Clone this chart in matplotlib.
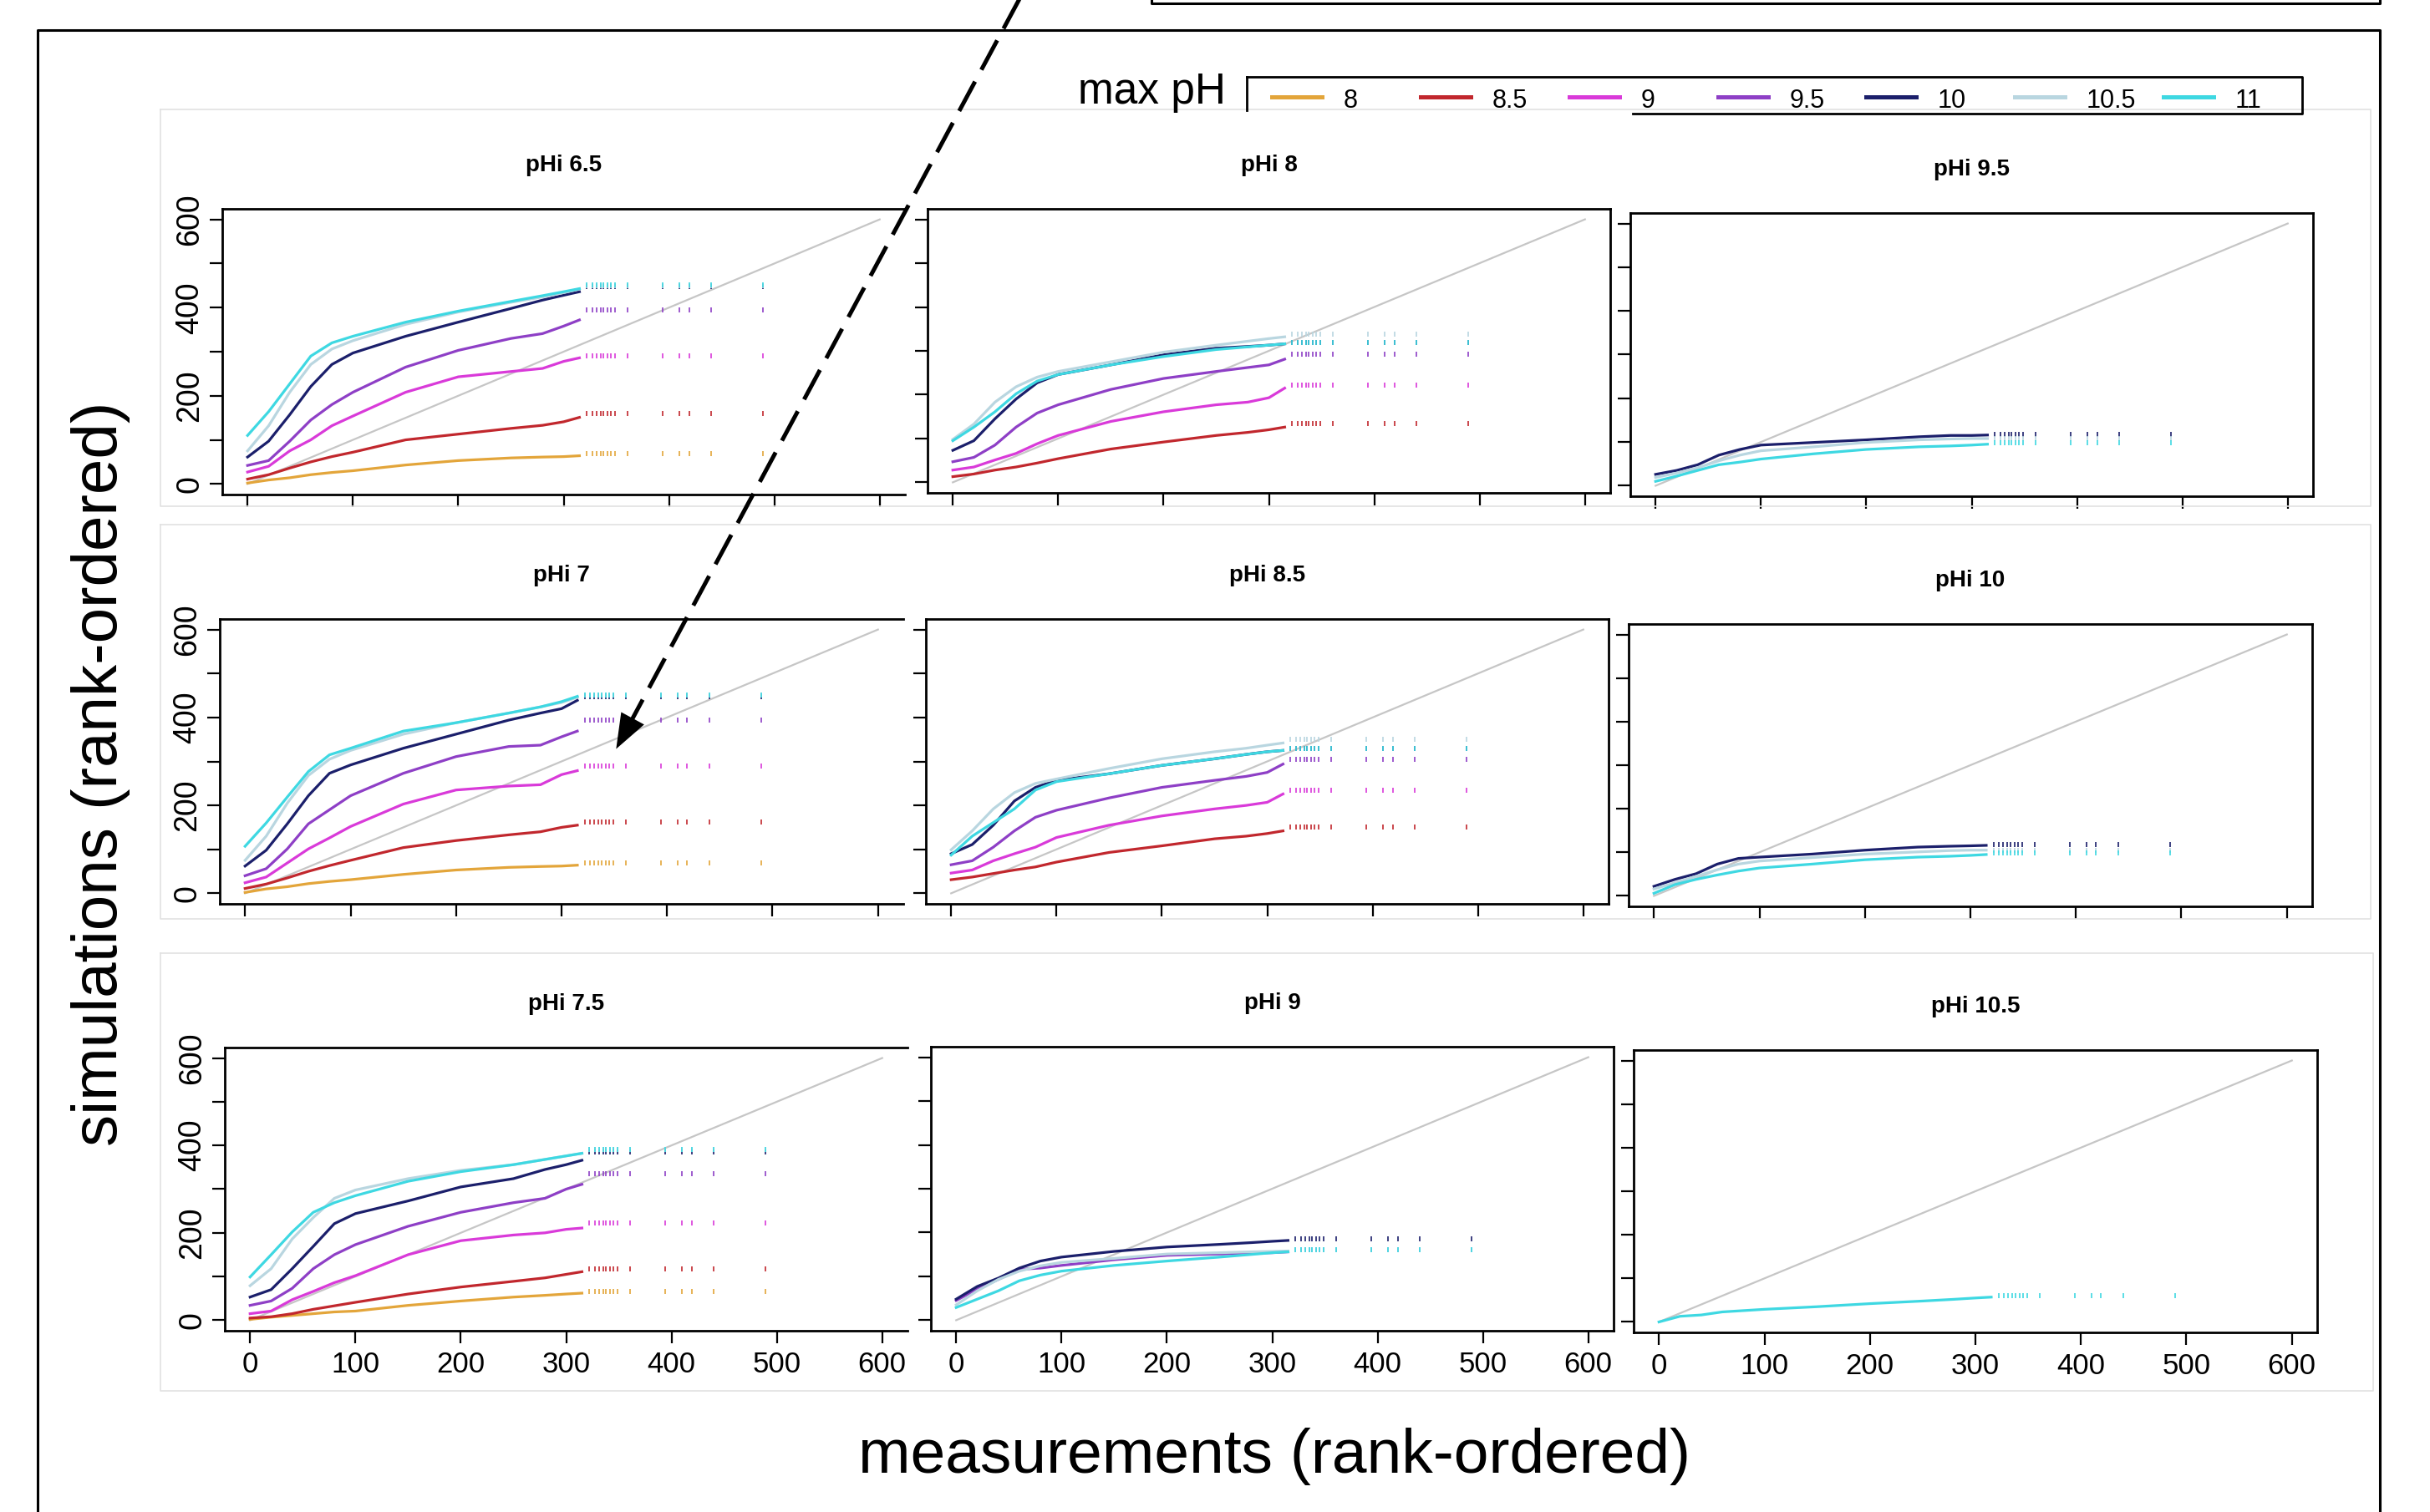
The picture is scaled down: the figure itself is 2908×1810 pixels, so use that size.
import matplotlib
matplotlib.use("Agg")
import matplotlib.pyplot as plt

plt.rcParams["font.family"] = ["Liberation Sans", "DejaVu Sans"]

W, H = 2908, 1810

# legend / series
MAX_PH = ["8", "8.5", "9", "9.5", "10", "10.5", "11"]
COLORS = ["#e3a53a", "#c1272d", "#d93ad9", "#8e3fc6", "#1b1f6b", "#b9d6e0", "#3ed8e2"]

# x (measurement rank) where the curves were read, and the sparse tail points
LINE_X = [0, 20, 40, 60, 80, 100, 150, 200, 250, 280, 300, 315]
TAIL_X = [322, 327, 331, 335, 338, 342, 345, 349, 361, 394, 410, 419, 440, 489]
ONE_TO_ONE = [0, 600]

# simulated rank values per panel (key = max pH)
PHI_6_5 = {
    "8":    [2, 9, 14, 21, 26, 30, 43, 53, 59, 61, 62, 64],
    "8.5":  [11, 21, 36, 50, 62, 72, 100, 113, 126, 133, 141, 151],
    "9":    [27, 40, 75, 100, 132, 154, 208, 243, 255, 262, 278, 286],
    "9.5":  [42, 53, 97, 145, 180, 208, 265, 303, 330, 341, 358, 372],
    "10":   [61, 97, 157, 221, 271, 297, 335, 367, 398, 417, 428, 436],
    "10.5": [75, 132, 208, 271, 306, 325, 362, 390, 412, 424, 434, 442],
    "11":   [110, 164, 227, 290, 320, 335, 367, 392, 414, 427, 436, 443],
}
PHI_6_5_TAIL = {"8": 68, "8.5": 160, "9": 290, "9.5": 395, "10": 447, "10.5": 450, "11": 452}

PHI_7 = {
    "8":    [2, 10, 15, 22, 27, 31, 43, 53, 59, 61, 62, 64],
    "8.5":  [11, 21, 35, 50, 63, 75, 104, 120, 133, 140, 150, 155],
    "9":    [24, 37, 69, 101, 126, 152, 203, 235, 244, 247, 270, 279],
    "9.5":  [40, 56, 101, 158, 190, 222, 273, 311, 334, 337, 356, 369],
    "10":   [62, 98, 158, 222, 273, 292, 330, 362, 394, 410, 420, 439],
    "10.5": [75, 130, 205, 268, 305, 325, 362, 388, 410, 424, 434, 446],
    "11":   [107, 160, 219, 277, 315, 330, 369, 388, 410, 424, 436, 448],
}
PHI_7_TAIL = {"8": 69, "8.5": 163, "9": 290, "9.5": 395, "10": 448, "10.5": 451, "11": 452}

PHI_7_5 = {
    "8":    [2, 7, 11, 15, 19, 21, 34, 44, 53, 57, 60, 62],
    "8.5":  [5, 8, 15, 25, 33, 41, 60, 76, 89, 97, 105, 111],
    "9":    [15, 21, 47, 66, 86, 102, 150, 182, 195, 200, 208, 211],
    "9.5":  [34, 44, 73, 118, 150, 173, 215, 247, 269, 279, 300, 311],
    "10":   [53, 70, 118, 169, 221, 244, 273, 305, 324, 345, 356, 366],
    "10.5": [79, 118, 186, 235, 279, 298, 324, 343, 356, 368, 376, 382],
    "11":   [99, 150, 202, 247, 269, 285, 318, 340, 356, 368, 376, 382],
}
PHI_7_5_TAIL = {"8": 66, "8.5": 118, "9": 222, "9.5": 336, "10": 385, "10.5": 390, "11": 390}

PHI_8 = {
    "8.5":  [13, 19, 28, 35, 44, 54, 76, 92, 107, 114, 120, 126],
    "9":    [28, 35, 51, 66, 88, 107, 139, 161, 177, 183, 193, 215],
    "9.5":  [47, 57, 85, 126, 158, 177, 212, 237, 253, 262, 268, 281],
    "10":   [73, 95, 145, 190, 227, 246, 268, 291, 306, 310, 313, 316],
    "10.5": [98, 133, 183, 218, 240, 253, 275, 297, 313, 322, 328, 332],
    "11":   [95, 126, 161, 202, 231, 246, 268, 287, 303, 309, 313, 316],
}
PHI_8_TAIL = {"8.5": 135, "9": 222, "9.5": 292, "10": 320, "10.5": 338, "11": 320}

PHI_8_5 = {
    "8.5":  [31, 37, 45, 53, 60, 71, 93, 108, 124, 130, 136, 142],
    "9":    [46, 53, 74, 90, 105, 127, 155, 176, 192, 200, 207, 226],
    "9.5":  [65, 74, 105, 142, 173, 189, 217, 241, 257, 266, 275, 294],
    "10":   [90, 111, 155, 210, 241, 257, 272, 291, 306, 316, 322, 325],
    "10.5": [99, 142, 192, 229, 250, 260, 284, 306, 322, 330, 337, 342],
    "11":   [87, 130, 161, 192, 235, 254, 272, 291, 306, 316, 322, 325],
}
PHI_8_5_TAIL = {"8.5": 150, "9": 234, "9.5": 305, "10": 330, "10.5": 350, "11": 330}

PHI_9 = {
    "9.5":  [45, 71, 93, 116, 119, 125, 138, 148, 151, 153, 154, 156],
    "10":   [48, 77, 96, 119, 135, 144, 157, 167, 173, 177, 180, 182],
    "10.5": [35, 67, 93, 112, 124, 132, 141, 151, 154, 156, 157, 158],
    "11":   [29, 48, 67, 90, 103, 112, 125, 135, 144, 150, 154, 156],
}
PHI_9_TAIL = {"9.5": 160, "10": 186, "10.5": 160, "11": 160}

PHI_9_5 = {
    "10":   [26, 35, 48, 70, 83, 93, 99, 105, 112, 115, 115, 116],
    "10.5": [19, 29, 41, 57, 70, 80, 89, 99, 105, 107, 108, 108],
    "11":   [10, 22, 35, 48, 54, 61, 73, 83, 89, 91, 93, 95],
}
PHI_9_5_TAIL = {"10": 118, "10.5": 108, "11": 99}

PHI_10 = {
    "10":   [22, 38, 51, 73, 86, 89, 96, 105, 112, 114, 115, 116],
    "10.5": [16, 30, 45, 60, 73, 80, 88, 96, 101, 104, 105, 105],
    "11":   [6, 26, 38, 48, 57, 64, 73, 83, 89, 91, 93, 95],
}
PHI_10_TAIL = {"10": 118, "10.5": 105, "11": 99}

PHI_10_5 = {
    "11":   [0, 13, 16, 23, 26, 29, 35, 42, 48, 52, 55, 57],
}
PHI_10_5_TAIL = {"11": 61}

TITLES = ["pHi 6.5", "pHi 8", "pHi 9.5", "pHi 7", "pHi 8.5", "pHi 10", "pHi 7.5", "pHi 9", "pHi 10.5"]
PANELS = [PHI_6_5, PHI_8, PHI_9_5, PHI_7, PHI_8_5, PHI_10, PHI_7_5, PHI_9, PHI_10_5]
TAILS = [PHI_6_5_TAIL, PHI_8_TAIL, PHI_9_5_TAIL, PHI_7_TAIL, PHI_8_5_TAIL, PHI_10_TAIL,
         PHI_7_5_TAIL, PHI_9_TAIL, PHI_10_5_TAIL]

# axes boxes in pixels (left, top, right, bottom)
BOXES = [
    (266, 250, 1083, 592), (1110, 250, 1927, 590), (1951, 255, 2768, 594),
    (263, 741, 1081, 1082), (1108, 741, 1925, 1082), (1949, 747, 2767, 1085),
    (269, 1254, 1086, 1593), (1114, 1253, 1931, 1593), (1955, 1257, 2773, 1595),
]


def px_box(x0, y0, x1, y1):
    return [x0 / W, 1 - y1 / H, (x1 - x0) / W, (y1 - y0) / H]


fig = plt.figure(figsize=(W / 100, H / 100), dpi=100)

for i, (title, lines, tails, box) in enumerate(zip(TITLES, PANELS, TAILS, BOXES)):
    row, col = divmod(i, 3)
    ax = fig.add_axes(px_box(*box))
    ax.plot(ONE_TO_ONE, ONE_TO_ONE, color="#c6c6c6", lw=1.6, zorder=1)
    for ph, color in zip(MAX_PH, COLORS):
        if ph not in lines:
            continue
        ax.plot(LINE_X, lines[ph], color=color, lw=2.3, zorder=2)
        ax.plot(TAIL_X, [tails[ph]] * len(TAIL_X), ls="none", marker="|",
                ms=5, mew=1.2, color=color, zorder=2)
    ax.set_xlim(-24, 624)
    ax.set_ylim(-24, 624)
    ax.set_xticks(range(0, 601, 100))
    ax.set_yticks(range(0, 601, 100))
    ax.tick_params(direction="out", length=11, width=1.6, labelsize=25)
    if row == 2:
        ax.set_xticklabels([str(v) for v in range(0, 601, 100)])
        ax.tick_params(axis="x", pad=6)
    else:
        ax.tick_params(axis="x", labelbottom=False)
    if col == 0:
        ax.set_yticklabels(["0", "", "200", "", "400", "", "600"], rotation=90,
                           va="center", fontsize=27)
        ax.tick_params(axis="y", pad=4)
        ax.spines["right"].set_visible(False)
    else:
        ax.tick_params(axis="y", labelleft=False)
    for s in ax.spines.values():
        s.set_linewidth(2.0)
    h_px = box[3] - box[1]
    ax.text(0.5, 1 + 52 / h_px, title, transform=ax.transAxes, ha="center",
            va="center", fontsize=20, fontweight="bold")

# overlay in pixel coordinates for the frame, faint image borders, arrow and legend
over = fig.add_axes([0, 0, 1, 1])
over.set_xlim(0, W)
over.set_ylim(H, 0)
over.axis("off")
over.patch.set_alpha(0)
over.set_zorder(10)

faint = "#e2e2e2"
for (x0, y0, x1, y1) in [(192, 131, 2837, 606), (192, 628, 2837, 1100), (192, 1141, 2840, 1665)]:
    over.plot([x0, x1, x1, x0, x0], [y0, y0, y1, y1, y0], color=faint, lw=1.2, zorder=0)

# outer frame and the edge of the box above
over.plot([45, 45, 2848, 2848], [H, 36, 36, H], color="black", lw=2.2, zorder=5)
over.plot([1378, 1378, 2848, 2848], [0, 4, 4, 0], color="black", lw=2.2, zorder=5)

# dashed arrow
tip = (736, 899)
start = (1222, -5)
ux, uy = -0.4757, 0.8796
neck = (tip[0] - 30 * ux, tip[1] - 30 * uy)
over.plot([start[0], neck[0]], [start[1], neck[1]], color="black", lw=3.6,
          ls=(0, (8, 3.2)), zorder=6)
over.annotate("", xy=tip, xytext=(tip[0] - 32 * ux, tip[1] - 32 * uy),
              arrowprops=dict(arrowstyle="-|>,head_length=1.2,head_width=0.45",
                              color="black", lw=0, mutation_scale=25), zorder=6)

# legend
over.text(1290, 124, "max pH", fontsize=37, ha="left", va="baseline", zorder=6)
over.plot([1492, 2755, 2755, 1954], [92, 92, 136, 136], color="black", lw=2.0, zorder=6)
over.plot([1492, 1492], [92, 132], color="black", lw=2.0, zorder=6)
leg_x = [1522, 1700, 1878, 2056, 2233, 2411, 2589]
for x0, ph, color in zip(leg_x, MAX_PH, COLORS):
    over.plot([x0, x0 + 60], [116, 116], color=color, lw=3.6, zorder=6)
    over.text(x0 + 86, 129, ph, fontsize=22, ha="left", va="baseline", zorder=6)

# axis titles
fig.text(121 / W, 1 - 926 / H, "simulations (rank-ordered)", rotation=90,
         ha="center", va="center", fontsize=55)
fig.text(1525 / W, 1 - 1743 / H, "measurements (rank-ordered)",
         ha="center", va="center", fontsize=54)

fig.savefig("out.png", dpi=100)
